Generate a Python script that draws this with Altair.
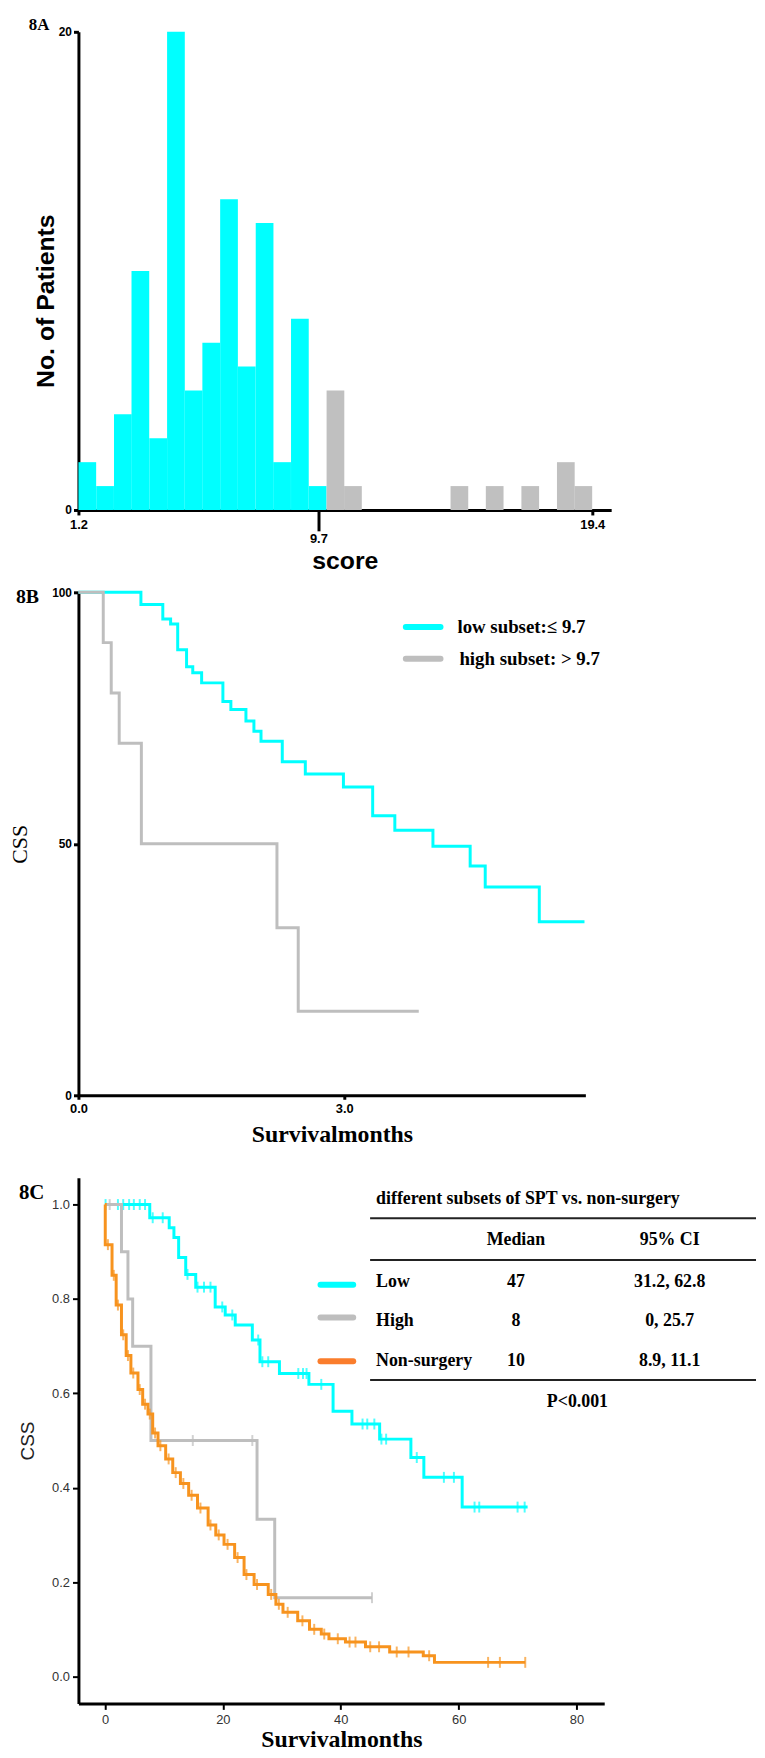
import altair as alt
import pandas as pd

# ---------------- Panel A: histogram of score ----------------
bin_lo = [1.2, 1.83, 2.46, 3.08, 3.71, 4.34, 4.97, 5.59, 6.22, 6.85, 7.48, 8.10, 8.73, 9.36,
          9.99, 10.61, 14.38, 15.63, 16.89, 18.15, 18.77]
bin_count = [2, 1, 4, 10, 3, 20, 5, 7, 13, 6, 12, 2, 8, 1,
             5, 1, 1, 1, 1, 2, 1]
bin_group = ["low"] * 14 + ["high"] * 7
BIN_W = 0.6276
score_ticks = [1.2, 9.7, 19.4]

# ---------------- Panel B: KM curves (two subsets) ----------------
b_low_t = [0, 0.705, 0.952, 1.04, 1.12, 1.22, 1.29, 1.39, 1.63, 1.72, 1.89, 1.98, 2.06,
           2.30, 2.56, 2.99, 3.32, 3.57, 4.00, 4.42, 4.59, 5.20, 5.71]
b_low_s = [100, 97.6, 94.7, 93.7, 88.6, 85.2, 84.0, 82.0, 78.3, 76.7, 74.4, 72.4, 70.4,
           66.3, 63.9, 61.3, 55.6, 52.7, 49.5, 45.6, 41.4, 34.5, 34.5]
b_high_t = [0, 0.28, 0.37, 0.46, 0.71, 2.24, 2.48, 3.84]
b_high_s = [100, 90, 80, 70, 50, 33.3, 16.7, 16.7]

# ---------------- Panel C: KM curves with censoring ----------------
c_low_t = [0, 7.6, 10.9, 11.7, 12.5, 13.7, 15.4, 18.7, 20.4, 22.1, 25.0, 26.3, 29.6, 34.6,
           38.7, 41.9, 46.6, 51.9, 54.1, 60.6, 71.7]
c_low_s = [1.0, 0.972, 0.951, 0.93, 0.888, 0.852, 0.825, 0.783, 0.766, 0.745, 0.713, 0.667,
           0.642, 0.619, 0.562, 0.535, 0.503, 0.464, 0.422, 0.359, 0.359]
c_low_cens = [0.1, 2.2, 3.1, 4.1, 4.9, 5.9, 6.8, 8.1, 9.8, 14.0, 15.7, 16.8, 17.9, 19.9,
              21.6, 26.0, 26.7, 27.7, 32.8, 33.6, 34.2, 36.7, 43.7, 44.5, 45.7, 46.9, 47.7,
              52.9, 57.5, 59.2, 62.7, 63.5, 70.0, 71.2]

c_high_t = [0, 2.8, 3.9, 4.7, 7.8, 25.8, 28.8, 45.3]
c_high_s = [1.0, 0.9, 0.8, 0.7, 0.5, 0.333, 0.167, 0.167]
c_high_cens = [0.8, 14.9, 25.0, 45.3]

c_non_t = [0, 0.05, 1.2, 1.9, 2.8, 3.6, 4.4, 5.6, 6.4, 7.3, 8.1, 9.0, 10.3, 11.5, 12.8,
           14.2, 15.7, 17.5, 18.8, 20.2, 22.0, 23.6, 25.3, 27.7, 29.0, 30.2, 32.7, 34.7,
           36.7, 38.0, 40.8, 44.2, 48.3, 54.0, 55.9, 71.3]
c_non_s = [1.0, 0.915, 0.85, 0.787, 0.724, 0.68, 0.643, 0.608, 0.577, 0.556, 0.516, 0.489,
           0.461, 0.432, 0.409, 0.384, 0.357, 0.321, 0.30, 0.28, 0.252, 0.216, 0.195, 0.174,
           0.153, 0.136, 0.118, 0.10, 0.09, 0.08, 0.073, 0.063, 0.052, 0.044, 0.03, 0.03]
c_non_cens = [0.5, 1.5, 2.2, 3.1, 3.9, 4.8, 5.9, 6.8, 7.6, 8.5, 9.4, 10.8, 12.0, 13.3, 14.7,
              16.2, 17.9, 19.3, 20.8, 22.5, 24.0, 25.8, 28.2, 29.5, 31.0, 33.5, 35.5, 37.2,
              39.5, 41.5, 42.5, 45.0, 46.5, 49.5, 51.5, 55.0, 65.0, 67.0, 71.3]

table_title = "different subsets of SPT vs. non-surgery"
table_head = ["Median", "95% CI"]
table_rows = ["Low", "High", "Non-surgery"]
table_median = ["47", "8", "10"]
table_ci = ["31.2, 62.8", "0, 25.7", "8.9, 11.1"]
p_text = "P<0.001"

CYAN = "#00FFFF"
GRAY = "#BEBEBE"
ORANGE = "#F7931E"
ORANGE_LEG = "#FA7D2C"
SANS = "Liberation Sans"
SERIF = "Liberation Serif"

# reference page geometry (plot left / top of each panel)
A_L, A_TOP = 74, 25
B_L, B_TOP = 73, 592
C_L, C_TOP = 72, 1180
dummy = pd.DataFrame({"k": [0]})


def text(x, y, s, size, font=SERIF, weight="bold", align="left", baseline="middle", color="black"):
    return alt.Chart(dummy).mark_text(text=s, font=font, fontSize=size, fontWeight=weight,
                                      align=align, baseline=baseline, color=color).encode(
        x=alt.value(x), y=alt.value(y))


def hrule(x1, x2, y, color, w, cap="butt"):
    return alt.Chart(dummy).mark_rule(color=color, strokeWidth=w, strokeCap=cap).encode(
        x=alt.value(x1), x2=alt.value(x2), y=alt.value(y))


def step_value(ts, ss, t):
    v = ss[0]
    for ti, si in zip(ts, ss):
        if ti <= t:
            v = si
    return v


# ---------------- Panel A ----------------
dfA = pd.DataFrame({"lo": bin_lo, "n": bin_count, "grp": bin_group})
is97 = "abs(datum.value - 9.7) < 0.01"
axA_x = alt.Axis(values=score_ticks, format=".1f", title="score", labelFlush=False,
                 domainColor="black", domainWidth=3, tickColor="black", tickWidth=3,
                 tickSize={"condition": {"test": is97, "value": 21}, "value": 5},
                 labelPadding={"condition": {"test": is97, "value": 2}, "value": 4},
                 labelFont=SANS, labelFontWeight="bold", labelFontSize=13, labelColor="black",
                 titleFont=SANS, titleFontWeight="bold", titleFontSize=25, titleColor="black",
                 titlePadding=3, grid=False)
axA_y = alt.Axis(values=[0, 20], title="No. of Patients", domainColor="black", domainWidth=3,
                 tickColor="black", tickWidth=3, tickSize=5, labelPadding=2,
                 labelFont=SANS, labelFontWeight="bold", labelFontSize=12, labelColor="black",
                 titleFont=SANS, titleFontWeight="bold", titleFontSize=25, titleColor="black",
                 titlePadding=0, titleY=271, grid=False)
barsA = alt.Chart(dfA).transform_calculate(hi=f"datum.lo + {BIN_W}").mark_rect().encode(
    x=alt.X("lo:Q", scale=alt.Scale(domain=[1.2, 20.07], nice=False, zero=False), axis=axA_x),
    x2="hi:Q",
    y=alt.Y("n:Q", scale=alt.Scale(domain=[0, 20], nice=False), axis=axA_y),
    y2=alt.datum(0),
    color=alt.Color("grp:N", scale=alt.Scale(domain=["low", "high"], range=[CYAN, "#C0C0C0"]),
                    legend=None),
)
panelA = alt.layer(
    barsA,
    text(24 - A_L, 23 - A_TOP, "8A", 17, baseline="alphabetic"),
).properties(width=537, height=482)

# ---------------- Panel B ----------------
dfBl = pd.DataFrame({"t": b_low_t, "s": b_low_s})
dfBh = pd.DataFrame({"t": b_high_t, "s": b_high_s})
axB_x = alt.Axis(values=[0, 3], format=".1f", title="Survivalmonths", labelFlush=False,
                 domainColor="black", domainWidth=3, tickColor="black", tickWidth=3, tickSize=4,
                 labelPadding=3, labelFont=SANS, labelFontWeight="bold", labelFontSize=13,
                 labelColor="black", titleFont=SERIF, titleFontWeight="bold", titleFontSize=24,
                 titleColor="black", titlePadding=8, grid=False)
axB_y = alt.Axis(values=[0, 50, 100], title="CSS", domainColor="black", domainWidth=3,
                 tickColor="black", tickWidth=3, tickSize=5, labelPadding=2,
                 labelFont=SANS, labelFontWeight="bold", labelFontSize=12, labelColor="black",
                 titleFont=SERIF, titleFontWeight="normal", titleFontSize=22, titleColor="black",
                 titlePadding=20, grid=False)
xB = alt.X("t:Q", scale=alt.Scale(domain=[0, 5.72], nice=False, zero=False), axis=axB_x)
yB = alt.Y("s:Q", scale=alt.Scale(domain=[0, 100], nice=False), axis=axB_y)
lineBl = alt.Chart(dfBl).mark_line(interpolate="step-after", color=CYAN, strokeWidth=3).encode(x=xB, y=yB)
lineBh = alt.Chart(dfBh).mark_line(interpolate="step-after", color=GRAY, strokeWidth=3).encode(x=xB, y=yB)
panelB = alt.layer(
    lineBl, lineBh,
    hrule(403 - B_L, 438 - B_L, 627 - B_TOP, CYAN, 6, "round"),
    hrule(403 - B_L, 438 - B_L, 659 - B_TOP, GRAY, 6, "round"),
    text(455 - B_L, 627 - B_TOP, "low subset:\u2264 9.7", 19),
    text(457 - B_L, 659 - B_TOP, "high subset: > 9.7", 19),
    text(10 - B_L, 603 - B_TOP, "8B", 20, baseline="alphabetic"),
).properties(width=511, height=507)

# ---------------- Panel C ----------------
axC_x = alt.Axis(values=[0, 20, 40, 60, 80], title="Survivalmonths", labelFlush=False,
                 domainColor="black", domainWidth=3, tickColor="black", tickWidth=2, tickSize=6,
                 labelPadding=4, labelFont=SANS, labelFontSize=13, labelColor="#333",
                 titleFont=SERIF, titleFontWeight="bold", titleFontSize=24, titleColor="black",
                 titlePadding=1, grid=False)
axC_y = alt.Axis(values=[0, 0.2, 0.4, 0.6, 0.8, 1.0], format=".1f", title="CSS",
                 domainColor="black", domainWidth=3, tickColor="black", tickWidth=2, tickSize=6,
                 labelPadding=3, labelFont=SANS, labelFontSize=13, labelColor="#333",
                 titleFont=SANS, titleFontWeight="normal", titleFontSize=19, titleColor="#222",
                 titlePadding=14, grid=False)
xC = alt.X("t:Q", scale=alt.Scale(domain=[-4.5, 84.7], nice=False, zero=False), axis=axC_x)
yC = alt.Y("s:Q", scale=alt.Scale(domain=[-0.057, 1.057], nice=False, zero=False), axis=axC_y)


def km_layers(ts, ss, cens, color):
    df = pd.DataFrame({"t": ts, "s": ss})
    dfc = pd.DataFrame({"t": cens, "s": [step_value(ts, ss, c) for c in cens]})
    ln = alt.Chart(df).mark_line(interpolate="step-after", color=color, strokeWidth=3).encode(x=xC, y=yC)
    tk = alt.Chart(dfc).mark_tick(orient="vertical", color=color, size=11, thickness=2).encode(x=xC, y=yC)
    return [ln, tk]


layersC = []
layersC += km_layers(c_low_t, c_low_s, c_low_cens, CYAN)
layersC += km_layers(c_high_t, c_high_s, c_high_cens, GRAY)
layersC += km_layers(c_non_t, c_non_s, c_non_cens, ORANGE)

TX = lambda x: x - C_L
TY = lambda y: y - C_TOP
layersC.append(text(TX(372), TY(1202), table_title, 18))
layersC.append(hrule(TX(366), TX(755), TY(1221), "#222", 2))
layersC.append(text(TX(513), TY(1243), table_head[0], 18, align="center"))
layersC.append(text(TX(668), TY(1243), table_head[1], 18, align="center"))
layersC.append(hrule(TX(366), TX(755), TY(1263), "#222", 2))
row_y = [1285, 1325, 1365]
leg_y = [1288, 1321, 1365]
leg_col = [CYAN, GRAY, ORANGE_LEG]
for i in range(3):
    layersC.append(hrule(TX(316), TX(349), TY(leg_y[i]), leg_col[i], 6, "round"))
    layersC.append(text(TX(372), TY(row_y[i]), table_rows[i], 18))
    layersC.append(text(TX(513), TY(row_y[i]), table_median[i], 18, align="center"))
    layersC.append(text(TX(668), TY(row_y[i]), table_ci[i], 18, align="center"))
layersC.append(hrule(TX(366), TX(755), TY(1384), "#222", 2))
layersC.append(text(TX(575), TY(1406), p_text, 18, align="center"))
layersC.append(text(TX(12), TY(1202), "8C", 21, baseline="alphabetic"))

panelC = alt.layer(*layersC).properties(width=530, height=530)

chart = alt.vconcat(panelA, panelB, panelC, spacing=83, bounds="flush").resolve_scale(
    color="independent"
).properties(
    padding={"left": 0, "top": 1, "right": 0, "bottom": 0}, background="white"
).configure_view(stroke=None)

chart.save("out.html", embed_options={"renderer": "svg", "actions": False})
